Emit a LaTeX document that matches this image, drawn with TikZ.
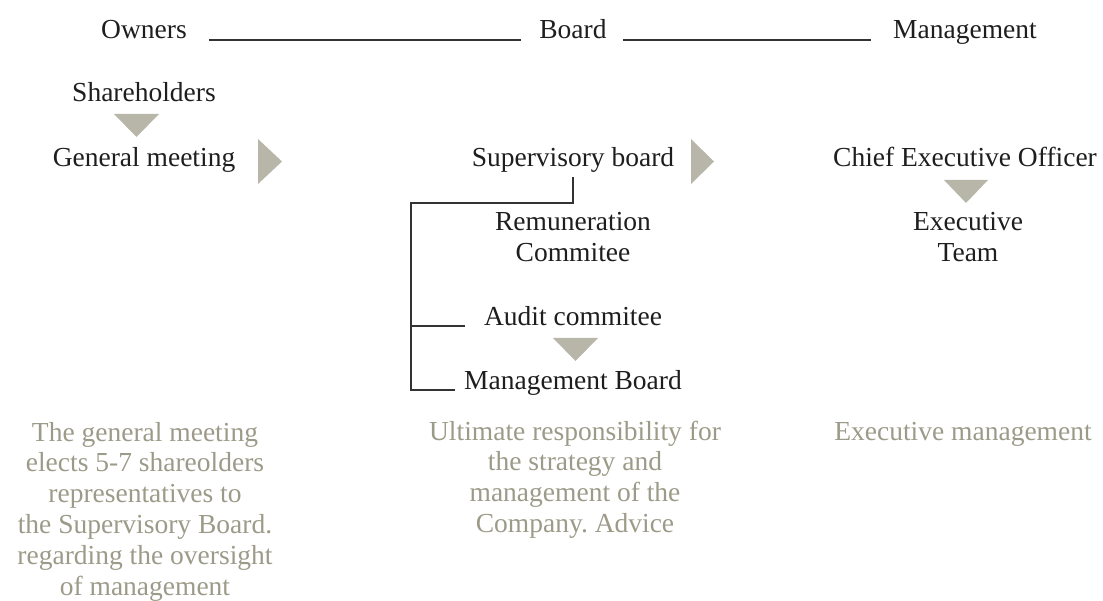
\documentclass[tikz,border=0pt]{standalone}
\usepackage{fontspec}
\setmainfont{Liberation Serif}
\frenchspacing

\definecolor{ink}{HTML}{1E1E1E}
\definecolor{notegray}{HTML}{9C9A88}
\definecolor{markgray}{HTML}{B8B6A9}
\definecolor{rulegray}{HTML}{333333}

\tikzset{
  lbl/.style={font=\fontsize{27.5}{31}\selectfont, text=ink, inner sep=0pt, anchor=base, align=center},
  note/.style={lbl, font=\fontsize{27.5}{30.8}\selectfont, text=notegray},
  headline/.style={draw=rulegray, line width=1.4pt},
  treeline/.style={draw=rulegray, line width=1.1pt},
  marker/.style={fill=markgray},
}

\begin{document}
\begin{tikzpicture}[x=1pt, y=-1pt]
    \useasboundingbox (0,0) rectangle (1103,601);

        \node[lbl] (owners) at (144,39) {Owners};
        \node[lbl] (board) at (573,39) {Board};
        \node[lbl] (mgmt) at (965,39) {Management};
            \draw[headline] ([xshift=22pt,yshift=-1pt]owners.base east) -- ([xshift=-18pt,yshift=-1pt]board.base west);
            \draw[headline] ([xshift=16pt,yshift=-1pt]board.base east) -- ([xshift=-22pt,yshift=-1pt]mgmt.base west);

        \node[lbl] (share) at (144,102) {Shareholders};
        \node[lbl] (genmeet) at (144,167) {General meeting};
        \node[lbl] (supbd) at (573,167) {Supervisory board};
        \node[lbl] (ceo) at (965,167) {Chief Executive Officer};

        % base of a two-line label sits on its last line
        \node[lbl] (remun) at (573,262) {Remuneration\\Commitee};
        \node[lbl] (audit) at (573,326) {Audit commitee};
        \node[lbl] (mgmtbd) at (573,390) {Management Board};
        \node[lbl] (execteam) at (968,262) {Executive\\Team};

        \coordinate (trunk) at (411,203);
            \draw[treeline] ([yshift=-4pt]supbd.south) |- (trunk) -- (trunk |- mgmtbd.base) -- ([xshift=-9pt]mgmtbd.base west);
            \draw[treeline] (trunk |- audit.base) -- ([xshift=-19pt]audit.base west);

            \fill[marker] (114,114) -- (159,114) -- (136.5,137) -- cycle;
            \fill[marker] (553,338) -- (598,338) -- (575.5,361) -- cycle;
            \fill[marker] (944,180) -- (988,180) -- (966,203) -- cycle;
            \fill[marker] (258,139) -- (282,161.5) -- (258,184) -- cycle;
            \fill[marker] (691,139) -- (714,161.5) -- (691,184) -- cycle;

        \node[note] (gmnote) at (145,595) {The general meeting\\elects 5-7 shareolders\\representatives to\\the Supervisory Board.\\regarding the oversight\\of management};
        \node[note] (sbnote) at (575,532.4) {Ultimate responsibility for\\the strategy and\\management of the\\Company. Advice};
        \node[note] (ceonote) at (963,440) {Executive management};

\end{tikzpicture}
\end{document}
